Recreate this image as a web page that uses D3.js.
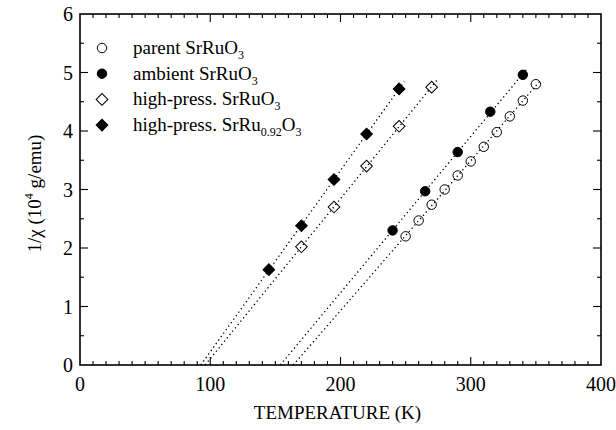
<!DOCTYPE html>
<html>
<head>
<meta charset="utf-8">
<script src="https://cdn.jsdelivr.net/npm/d3@7"></script>
<style>
  body { margin: 0; background: #fff; }
  svg text { font-family: "Liberation Serif", "Times New Roman", serif; fill: #000; }
</style>
</head>
<body>
<svg id="chart" width="616" height="430"></svg>
<script>
// temperature (K) and 1/chi (10^4 g/emu)
const parentT = [250, 260, 270, 280, 290, 300, 310, 320, 330, 340, 350];
const parentInv = [2.20, 2.47, 2.74, 3.00, 3.24, 3.48, 3.73, 3.98, 4.25, 4.52, 4.80];

const ambientT = [240, 265, 290, 315, 340];
const ambientInv = [2.30, 2.97, 3.64, 4.33, 4.96];

const hpT = [170, 195, 220, 245, 270];
const hpInv = [2.02, 2.70, 3.40, 4.08, 4.75];

const hp92T = [145, 170, 195, 220, 245];
const hp92Inv = [1.63, 2.38, 3.17, 3.95, 4.72];

const xTicks = [0, 100, 200, 300, 400];
const yTicks = [0, 1, 2, 3, 4, 5, 6];

const series = [
  { name: "parent SrRuO", sub: "3", tail: "", T: parentT, v: parentInv, shape: "circle", filled: false },
  { name: "ambient SrRuO", sub: "3", tail: "", T: ambientT, v: ambientInv, shape: "circle", filled: true },
  { name: "high-press. SrRuO", sub: "3", tail: "", T: hpT, v: hpInv, shape: "diamond", filled: false },
  { name: "high-press. SrRu", sub: "0.92", tail: "O", sub2: "3", T: hp92T, v: hp92Inv, shape: "diamond", filled: true },
];

const svg = d3.select("#chart");
const margin = { left: 80, right: 15, top: 14, bottom: 65 };
const W = 616, H = 430;

const x = d3.scaleLinear().domain([0, 400]).range([margin.left, W - margin.right]);
const y = d3.scaleLinear().domain([0, 6]).range([H - margin.bottom, margin.top]);

// frame
svg.append("rect")
  .attr("x", x(0)).attr("y", y(6))
  .attr("width", x(400) - x(0)).attr("height", y(0) - y(6))
  .attr("fill", "none").attr("stroke", "#000").attr("stroke-width", 1.6);

// inward ticks on all four sides
const ticks = svg.append("g").attr("stroke", "#000").attr("stroke-width", 1.1);
d3.range(10, 400, 10).forEach(t => {
  const len = t % 100 === 0 ? 8 : 4;
  ticks.append("line").attr("x1", x(t)).attr("x2", x(t)).attr("y1", y(0)).attr("y2", y(0) - len);
  ticks.append("line").attr("x1", x(t)).attr("x2", x(t)).attr("y1", y(6)).attr("y2", y(6) + len);
});
d3.range(0.5, 6, 0.5).forEach(v => {
  const len = Math.abs(v % 1) < 1e-9 ? 8 : 4;
  ticks.append("line").attr("x1", x(0)).attr("x2", x(0) + len).attr("y1", y(v)).attr("y2", y(v));
  ticks.append("line").attr("x1", x(400)).attr("x2", x(400) - len).attr("y1", y(v)).attr("y2", y(v));
});

// tick labels
svg.append("g").selectAll("text").data(xTicks).join("text")
  .attr("x", d => x(d)).attr("y", y(0) + 26)
  .attr("text-anchor", "middle").attr("font-size", 20)
  .text(d => d);
svg.append("g").selectAll("text").data(yTicks).join("text")
  .attr("x", x(0) - 7).attr("y", d => y(d) + 7)
  .attr("text-anchor", "end").attr("font-size", 20)
  .text(d => d);

// axis titles
svg.append("text")
  .attr("x", (x(0) + x(400)) / 2 - 3).attr("y", 419)
  .attr("text-anchor", "middle").attr("font-size", 19)
  .text("TEMPERATURE (K)");

const yl = svg.append("text")
  .attr("transform", `translate(41,${(y(0) + y(6)) / 2 + 4}) rotate(-90)`)
  .attr("text-anchor", "middle").attr("font-size", 19);
yl.append("tspan").text("1/χ (10");
yl.append("tspan").attr("font-size", 12).attr("dy", -8).text("4");
yl.append("tspan").attr("dy", 8).text(" g/emu)");

// least squares fit, drawn from the x-intercept to just past the last point
function fit(T, v) {
  const mx = d3.mean(T), my = d3.mean(v);
  const b = d3.sum(T, (t, i) => (t - mx) * (v[i] - my)) / d3.sum(T, t => (t - mx) ** 2);
  return { b, a: my - b * mx };
}

const plot = svg.append("g");
series.forEach(s => {
  const f = fit(s.T, s.v);
  const t0 = -f.a / f.b;
  const t1 = d3.max(s.T) + 4;
  plot.append("line")
    .attr("x1", x(t0)).attr("y1", y(0))
    .attr("x2", x(t1)).attr("y2", y(f.a + f.b * t1))
    .attr("stroke", "#000").attr("stroke-width", 1.3)
    .attr("stroke-dasharray", "1.3 3");
});

const symCircle = d3.symbol().type(d3.symbolCircle).size(70);
const symDiamond = d3.symbol().type(d3.symbolSquare).size(68);

function drawMarker(g, s, cx, cy) {
  const p = g.append("path")
    .attr("d", s.shape === "circle" ? symCircle() : symDiamond())
    .attr("fill", s.filled ? "#000" : "none")
    .attr("stroke", "#000").attr("stroke-width", 1);
  p.attr("transform", `translate(${cx},${cy})` + (s.shape === "diamond" ? " rotate(45)" : ""));
}

series.forEach(s => {
  s.T.forEach((t, i) => drawMarker(plot, s, x(t), y(s.v[i])));
});

// legend
const legend = svg.append("g");
series.forEach((s, i) => {
  const ly = 48 + i * 25.7;
  drawMarker(legend, s, 102, ly);
  const tx = legend.append("text").attr("x", 133).attr("y", ly + 6).attr("font-size", 19);
  tx.append("tspan").text(s.name);
  tx.append("tspan").attr("font-size", 12).attr("dy", 5).text(s.sub);
  if (s.tail) {
    tx.append("tspan").attr("font-size", 19).attr("dy", -5).text(s.tail);
    tx.append("tspan").attr("font-size", 12).attr("dy", 5).text(s.sub2);
  }
});
</script>
</body>
</html>
